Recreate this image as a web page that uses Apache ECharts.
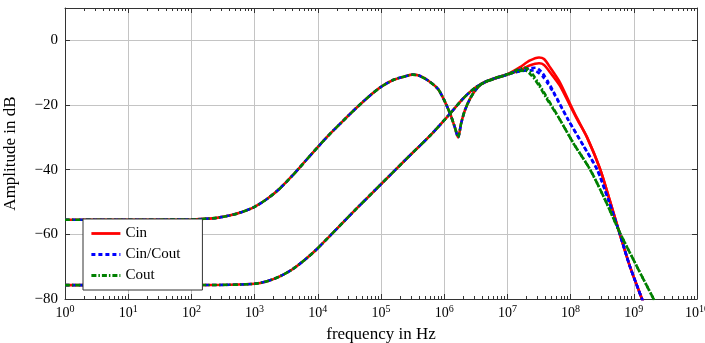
<!DOCTYPE html>
<html>
<head>
<meta charset="utf-8">
<script src="https://cdn.jsdelivr.net/npm/echarts@6/dist/echarts.min.js"></script>
<style>
  html, body { margin: 0; padding: 0; background: #fff; }
  #chart { width: 705px; height: 343px; }
</style>
</head>
<body>
<div id="chart"></div>
<script>
// frequencies are written as decades (log10 of Hz), amplitudes in dB

// upper trace (the one with the notch), same for all three series up to 10^7
const upperDecades = [0, 1, 2, 2.2, 2.4, 2.6, 2.8, 3.0, 3.2, 3.4, 3.6, 3.8, 4.0, 4.2, 4.4, 4.6, 4.8, 5.0, 5.2, 5.4, 5.5, 5.6, 5.75, 5.9, 6.0, 6.1, 6.17, 6.22, 6.27, 6.33, 6.41, 6.5, 6.6, 6.8, 7.0]
const upperDb = [-55.5, -55.5, -55.4, -55.2, -54.9, -54.2, -53.1, -51.5, -49, -45.8, -41.8, -37.4, -33, -28.8, -24.9, -21.1, -17.5, -14.4, -12.2, -11, -10.6, -10.9, -12.5, -15, -18.5, -23, -27, -30, -25.5, -21.5, -18, -15.3, -13.3, -11.7, -10.5]

// lower trace, same for all three series up to 10^7
const lowerDecades = [0, 1, 2, 2.6, 3.0, 3.2, 3.4, 3.6, 3.8, 4.0, 4.2, 4.4, 4.6, 5.0, 5.4, 5.8, 6.1, 6.3, 6.5, 6.7, 7.0]
const lowerDb = [-75.7, -75.7, -75.7, -75.6, -75.3, -74.5, -73, -70.8, -67.8, -64.3, -60.3, -56.3, -52.3, -44.5, -36.7, -29, -22.5, -18, -14.5, -12.5, -10.6]

// high frequency parts
const cinTailDecades = [7.2, 7.35, 7.5, 7.58, 7.68, 7.83, 8.0, 8.1, 8.26, 8.47, 8.62, 8.78, 8.94, 9.13, 9.2]
const cinUpperTail = [-8.3, -6.3, -5.3, -5.8, -8.5, -13, -20, -24, -30, -40, -49.5, -60, -70, -80, -83.5]
const cinLowerTail = [-9.2, -7.8, -7.1, -7.6, -10, -14, -20.5, -24.3, -30, -40, -49.5, -60, -70, -80, -83.5]

const cinCoutTailDecades = [7.2, 7.35, 7.45, 7.55, 7.65, 7.72, 7.96, 8.2, 8.42, 8.6, 8.78, 8.94, 9.13, 9.2]
const cinCoutUpperTail = [-9.2, -8.6, -8.5, -10, -13, -15.5, -24.5, -32.5, -40, -49.5, -60, -70, -80, -83.5]
const cinCoutLowerTail = [-9.6, -9.3, -9.5, -11, -13.7, -15.9, -24.5, -32.5, -40, -49.5, -60, -70, -80, -83.5]

const coutTailDecades = [7.15, 7.28, 7.38, 7.5, 7.62, 7.83, 8.05, 8.31, 8.55, 8.78, 9.05, 9.3, 9.36]
const coutUpperTail = [-9.2, -8.5, -10, -13.5, -17.5, -24.5, -32, -40, -49.5, -59.5, -70, -79.5, -82]
const coutLowerTail = [-9.7, -9.3, -10.8, -14, -18, -24.5, -32, -40, -49.5, -59.5, -70, -79.5, -82]

const decadeTicks = [0, 1, 2, 3, 4, 5, 6, 7, 8, 9, 10]

const serif = 'Liberation Serif'

function points (decades, db) {
  return decades.map((d, i) => [Math.pow(10, d), db[i]])
}

let minorTicks = []
decadeTicks.slice(0, -1).forEach(d => {
  for (let k = 2; k <= 9; k++) minorTicks.push(k * Math.pow(10, d))
})

const styles = {
  'Cin': { color: '#ff0000', width: 2.6, type: 'solid' },
  'Cin/Cout': { color: '#0000ff', width: 2.6, type: [4, 3] },
  'Cout': { color: '#008000', width: 2.6, type: [5, 2, 1.5, 2] }
}

function line (name, decades, db) {
  return {
    name: name,
    type: 'line',
    data: points(decades, db),
    showSymbol: false,
    symbol: 'none',
    smooth: 0.25,
    lineStyle: styles[name],
    itemStyle: { color: styles[name].color },
    clip: true
  }
}

const series = [
  line('Cin', upperDecades.concat(cinTailDecades), upperDb.concat(cinUpperTail)),
  line('Cin', lowerDecades.concat(cinTailDecades), lowerDb.concat(cinLowerTail)),
  line('Cin/Cout', upperDecades.concat(cinCoutTailDecades), upperDb.concat(cinCoutUpperTail)),
  line('Cin/Cout', lowerDecades.concat(cinCoutTailDecades), lowerDb.concat(cinCoutLowerTail)),
  line('Cout', upperDecades.concat(coutTailDecades), upperDb.concat(coutUpperTail)),
  line('Cout', lowerDecades.concat(coutTailDecades), lowerDb.concat(coutLowerTail))
]

const frame = { show: true, onZero: false, lineStyle: { color: '#333', width: 1 } }
const gridLine = { show: true, lineStyle: { color: '#c4c4c4', width: 1 } }

function logAxis (position, major, extra) {
  return Object.assign({
    type: 'log',
    logBase: 10,
    min: 1,
    max: 1e10,
    interval: 1,
    position: position,
    axisLine: major ? frame : { show: false, onZero: false },
    axisTick: major
      ? { inside: true, length: 5, lineStyle: { color: '#333' } }
      : { inside: true, length: 3, customValues: minorTicks, lineStyle: { color: '#333' } },
    axisLabel: { show: false },
    splitLine: { show: false }
  }, extra || {})
}

let myChart = echarts.init(document.getElementById('chart'))
let option = {
  animation: false,
  backgroundColor: '#fff',
  grid: { left: 65, right: 8, top: 8, bottom: 44, containLabel: false, outerBoundsMode: 'none' },
  legend: {
    data: ['Cin', 'Cin/Cout', 'Cout'],
    orient: 'vertical',
    left: 83,
    top: 219,
    backgroundColor: '#fff',
    borderColor: '#333',
    borderWidth: 1,
    borderRadius: 0,
    padding: [7, 22, 7, 7],
    itemGap: 6,
    itemWidth: 29,
    itemHeight: 14,
    itemStyle: { opacity: 0 },
    lineStyle: { width: 2.8 },
    textStyle: { fontFamily: serif, fontSize: 15, lineHeight: 14, color: '#000' }
  },
  xAxis: [
    logAxis('bottom', true, {
      axisLabel: {
        show: true,
        margin: 5,
        formatter: v => '{b|10}{s|' + Math.round(Math.log10(v)) + '}',
        rich: {
          b: { fontFamily: serif, fontSize: 14, color: '#000', lineHeight: 16, verticalAlign: 'bottom' },
          s: { fontFamily: serif, fontSize: 10, color: '#000', lineHeight: 9, verticalAlign: 'top' }
        }
      },
      splitLine: gridLine,
      name: 'frequency in Hz',
      nameLocation: 'middle',
      nameGap: 27,
      nameTextStyle: { fontFamily: serif, fontSize: 17, color: '#000' }
    }),
    logAxis('top', true),
    logAxis('bottom', false),
    logAxis('top', false)
  ],
  yAxis: [
    {
      type: 'value',
      min: -80,
      max: 10,
      interval: 20,
      position: 'left',
      axisLine: frame,
      axisTick: { inside: true, length: 5, lineStyle: { color: '#333' } },
      axisLabel: {
        margin: 7,
        fontFamily: serif,
        fontSize: 15,
        color: '#000',
        showMaxLabel: false,
        formatter: v => (v < 0 ? '\u2212' + (-v) : String(v))
      },
      splitLine: gridLine,
      name: 'Amplitude in dB',
      nameLocation: 'middle',
      nameGap: 46,
      nameTextStyle: { fontFamily: serif, fontSize: 17, color: '#000' }
    },
    {
      type: 'value',
      min: -80,
      max: 10,
      interval: 20,
      position: 'right',
      axisLine: frame,
      axisTick: { inside: true, length: 5, lineStyle: { color: '#333' } },
      axisLabel: { show: false },
      splitLine: { show: false }
    }
  ],
  series: series
}
myChart.setOption(option, true)
</script>
</body>
</html>
